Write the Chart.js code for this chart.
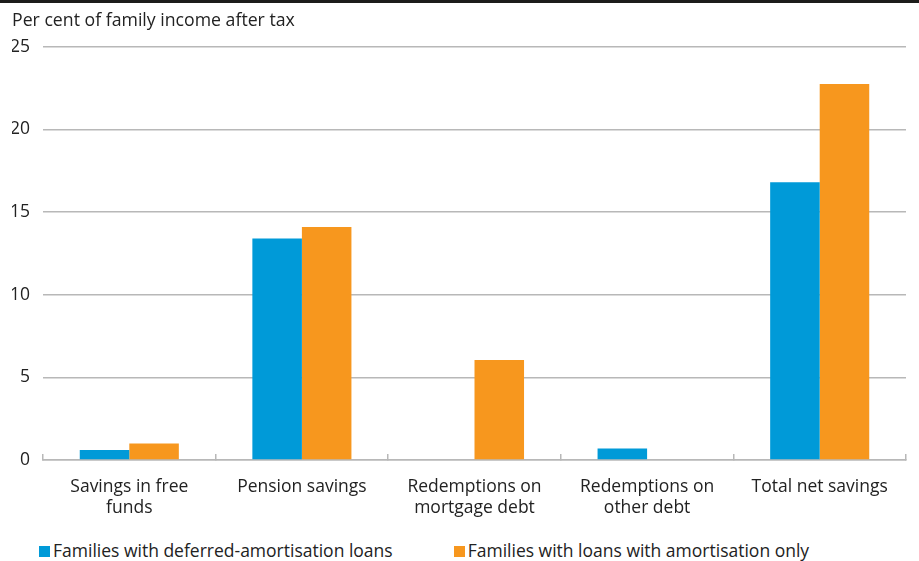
<!DOCTYPE html>
<html>
<head>
<meta charset="utf-8">
<script src="https://cdn.jsdelivr.net/npm/chart.js@4"></script>
<style>
  html, body { margin: 0; padding: 0; background: #fff; }
  body { width: 919px; height: 561px; position: relative; overflow: hidden; font-family: "Open Sans", sans-serif; }
  .rule { position: absolute; left: 0; top: 0; width: 919px; height: 3px; background: #1d1d1b; }
  .chart-box { position: absolute; left: 0; top: 0; width: 919px; height: 530px; }
  #legend { position: absolute; left: 39px; top: 539px; display: flex; font-size: 17.5px; color: #222; line-height: 22px; }
  #legend .item { display: flex; align-items: center; white-space: nowrap; }
  #legend .swatch { width: 11px; height: 11px; margin-right: 3px; margin-top: 2px; }
</style>
</head>
<body>
<div class="chart-box"><canvas id="savings-chart"></canvas></div>
<div class="rule"></div>
<div id="legend"></div>
<script>
// Savings and debt redemptions as a share of family income after tax

const categories = [
  ["Savings in free", "funds"],
  ["Pension savings"],
  ["Redemptions on", "mortgage debt"],
  ["Redemptions on", "other debt"],
  ["Total net savings"],
];
const seriesLabels = [
  "Families with deferred-amortisation loans",
  "Families with loans with amortisation only",
];
const deferredLoans    = [0.6, 13.4, 0, 0.7, 16.8];
const amortisationOnly = [1.0, 14.1, 6.05, 0, 22.75];
const yTicks = [0, 5, 10, 15, 20, 25];

const COLORS = ["#009ad8", "#f7971e"];
const TEXT   = "#222222";
const GRID   = "#b8b8b8";
const FONT   = "'Open Sans', sans-serif";
const SIZE   = 17.5;

const chart = new Chart(document.getElementById("savings-chart"), {
  type: "bar",
  data: {
    labels: categories,
    datasets: [
      { label: seriesLabels[0], data: deferredLoans,    backgroundColor: COLORS[0] },
      { label: seriesLabels[1], data: amortisationOnly, backgroundColor: COLORS[1] },
    ],
  },
  options: {
    responsive: true,
    maintainAspectRatio: false,
    animation: false,
    layout: { padding: { left: 12, right: 13, top: 0, bottom: 0 } },
    datasets: {
      bar: { barPercentage: 1, categoryPercentage: 0.574, borderWidth: 0 },
    },
    plugins: {
      legend: { display: false },
      tooltip: { enabled: false },
      title: {
        display: true,
        text: "Per cent of family income after tax",
        align: "start",
        color: TEXT,
        font: { family: FONT, size: 17.7, weight: "normal", lineHeight: 1.2 },
        padding: { top: 10, bottom: 15.5 },
      },
    },
    scales: {
      x: {
        afterFit: scale => { scale.height = 70; },
        grid: {
          offset: true,
          drawOnChartArea: false,
          drawTicks: true,
          tickLength: -6,
          color: GRID,
          lineWidth: 1.5,
        },
        border: { display: true, color: GRID, width: 1.5 },
        ticks: {
          color: TEXT,
          padding: 22,
          maxRotation: 0,
          autoSkip: false,
          font: { family: FONT, size: SIZE, lineHeight: 1.22 },
        },
      },
      y: {
        min: 0,
        max: 25,
        afterFit: scale => { scale.width = 31; },
        afterBuildTicks: scale => { scale.ticks = yTicks.map(v => ({ value: v })); },
        grid: { color: GRID, lineWidth: 1.5, drawTicks: false },
        border: { display: false },
        ticks: {
          color: TEXT,
          padding: 13,
          font: { family: FONT, size: SIZE },
        },
      },
    },
  },
});

// Legend built from the chart's own datasets
const legendEl = document.getElementById("legend");
chart.data.datasets.forEach((ds, i) => {
  const item = document.createElement("div");
  item.className = "item";
  if (i > 0) item.style.marginLeft = "61px";
  const sw = document.createElement("span");
  sw.className = "swatch";
  sw.style.background = ds.backgroundColor;
  const txt = document.createElement("span");
  txt.textContent = ds.label;
  item.appendChild(sw);
  item.appendChild(txt);
  legendEl.appendChild(item);
});
</script>
</body>
</html>
